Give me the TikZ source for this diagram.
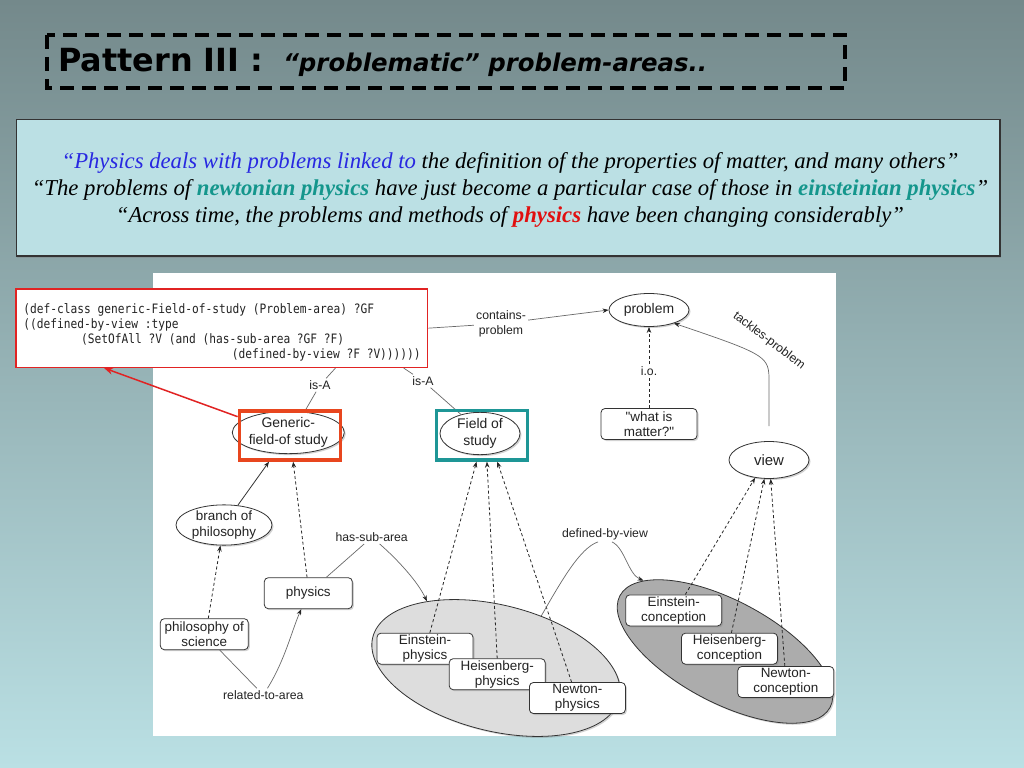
\documentclass[tikz,border=0pt]{standalone}
\usepackage{fontspec}
\setmainfont{Liberation Sans}
\newfontfamily\serifq{Liberation Serif}
\newfontfamily\monof{DejaVu Sans Mono}
\newfontfamily\titlef{DejaVu Sans}
\newfontfamily\plainsans[Ligatures=TeXOff]{Liberation Sans}
\usetikzlibrary{shapes.geometric,shadows,arrows.meta,calc}

\definecolor{bgtop}{RGB}{116,137,139}
\definecolor{bgbot}{RGB}{186,224,228}
\definecolor{quotebg}{RGB}{187,224,228}
\definecolor{qblue}{RGB}{40,40,225}
\definecolor{qteal}{RGB}{20,150,140}
\definecolor{qred}{RGB}{225,15,15}
\definecolor{codered}{RGB}{225,35,35}
\definecolor{orangebox}{RGB}{232,70,30}
\definecolor{tealbox}{RGB}{30,150,150}
\definecolor{lgray}{RGB}{221,221,221}
\definecolor{dgray}{RGB}{172,172,172}
\definecolor{lncol}{RGB}{105,105,105}
\definecolor{txtcol}{RGB}{35,35,35}

\begin{document}
\begin{tikzpicture}[x=1bp,y=-1bp,
  shad/.style={drop shadow={opacity=0.35, shadow xshift=1.5bp, shadow yshift=-1.5bp}},
  ellnode/.style={ellipse, draw=black!80, fill=white, line width=0.8bp, inner sep=0pt, align=center, text=txtcol, font=\fontsize{14}{17}\selectfont, shad},
  boxnode/.style={rectangle, rounded corners=4bp, draw=black!80, fill=white, line width=0.8bp, inner sep=0pt, minimum width=96bp, minimum height=31bp, align=center, text=txtcol, font=\fontsize{13.5}{15}\selectfont, shad},
  bigell/.style={ellipse, draw=black!80, line width=0.8bp, inner sep=0pt, shad},
  lbl/.style={inner sep=2bp, align=center, text=txtcol, font=\fontsize{12.3}{15}\selectfont},
  conn/.style={draw=lncol, line width=0.7bp},
  sconn/.style={draw=black!80, line width=0.8bp},
  dconn/.style={draw=black!85, line width=0.8bp, dash pattern=on 3bp off 2.5bp},
  tip/.style={-{Stealth[length=6bp,width=4.5bp,color=black!85]}},
  frame/.style={draw, inner sep=0pt, fill=none},
  codeline/.style={anchor=base west, inner sep=0pt, xscale=0.865, text=txtcol, font=\monof\fontsize{13}{15}\selectfont},
]
\useasboundingbox (0,0) rectangle (1024,768);
\shade[top color=bgtop, bottom color=bgbot] (0,0) rectangle (1024,768);

% title
\draw[line width=4bp, dash pattern=on 14bp off 8bp] (47,35) rectangle (845,88);
\node[anchor=base west, inner sep=0pt] (title) at (58,71.7)
  {{\titlef\bfseries\fontsize{32}{36}\selectfont Pattern III :}\hspace{20bp}{\titlef\bfseries\itshape\fontsize{24.5}{28}\selectfont “problematic” problem-areas..}};

% quote box
\node[rectangle, draw=black!80, line width=1.2bp, fill=quotebg, minimum width=983.7bp, minimum height=136.7bp, inner sep=0pt,
      drop shadow={opacity=0.4, shadow xshift=1bp, shadow yshift=-1.5bp}] (quote) at (508.2,187.7) {};
\node[align=center, inner sep=0pt, font=\serifq\itshape\fontsize{22.8}{27}\selectfont] (quotetext) at (510,190)
  {{\color{qblue}“Physics deals with problems linked to} the definition of the properties of matter, and many others”\\
   “The problems of {\color{qteal}\bfseries newtonian physics} have just become a particular case of those in {\color{qteal}\bfseries einsteinian physics}”\\
   “Across time, the problems and methods of {\color{qred}\bfseries physics} have been changing considerably”};

% white panel
\fill[white] (152.7,272.7) rectangle (836,735.5);

% big ellipses
\node[bigell, fill=lgray, minimum width=254bp, minimum height=126bp, rotate=-14] (lg) at (496,668) {};
\node[bigell, fill=dgray, minimum width=238bp, minimum height=102bp, rotate=-28] (dg) at (725,651.5) {};

% nodes
\node[ellnode, minimum width=80bp, minimum height=33bp] (problem) at (649,310) {problem};
\node[ellnode, minimum width=80bp, minimum height=37bp, font=\fontsize{15}{17}\selectfont] (view) at (769,460) {view};
\node[ellnode, minimum width=112bp, minimum height=42bp] (genell) at (288.3,432.5) {Generic-\\field-of study};
\node[ellnode, minimum width=80bp, minimum height=41bp] (fieldell) at (480,433.5) {Field of\\study};
\node[ellnode, minimum width=96bp, minimum height=40bp, font=\fontsize{13.5}{16}\selectfont] (branch) at (224,525) {branch of\\philosophy};

\node[boxnode, font=\plainsans\fontsize{13.5}{15}\selectfont] (whatis) at (649,424) {"what is\\matter?"};
\node[boxnode, minimum width=88bp] (physics) at (308.3,593.2) {physics};
\node[boxnode, minimum width=88bp] (philsci) at (204.3,634.2) {philosophy of\\science};

\node[boxnode] (ep) at (425,648.7) {Einstein-\\physics};
\node[boxnode] (hp) at (497.2,674.2) {Heisenberg-\\physics};
\node[boxnode] (np) at (577.4,698) {Newton-\\physics};
\node[boxnode] (ec) at (673.7,610.4) {Einstein-\\conception};
\node[boxnode] (hc) at (729.5,648.7) {Heisenberg-\\conception};
\node[boxnode] (nc) at (785.8,682) {Newton-\\conception};

% labels
\node[lbl] (isA1) at (320,385) {is-A};
\node[lbl] (isA2) at (423,381) {is-A};
\node[lbl] (cp) at (501,323.5) {contains-\\problem};
\node[lbl] (hsa) at (371.7,537.3) {has-sub-area};
\node[lbl] (dbv) at (605,534) {defined-by-view};
\node[lbl] (rta) at (263.3,695) {related-to-area};
\node[lbl, inner sep=0pt, rotate=-37] (tp) at (769,341) {tackles-problem};

% code box
\node[rectangle, draw=codered, line width=1.5bp, fill=white, minimum width=411.7bp, minimum height=78.3bp, inner sep=0pt] (code) at (221.85,328.15) {};
\node[codeline] (c1) at (23.3,313.5) {(def-class generic-Field-of-study (Problem-area) ?GF};
\node[codeline] (c2) at (23.3,328.5) {((defined-by-view :type};
\node[codeline] (c3) at (81,343.5) {(SetOfAll ?V (and (has-sub-area ?GF ?F)};
\node[codeline] (c4) at (231.7,358.5) {(defined-by-view ?F ?V))))))};

% connectors
\draw[conn] ($(code.south west)!0.775!(code.south east)$) -- (isA1);
\draw[conn] (isA1) -- (genell.52);
\draw[conn] ($(code.south west)!0.94!(code.south east)$) -- (isA2);
\draw[conn] (isA2) -- (fieldell.135);
\draw[conn] ($(code.north east)!0.5!(code.south east)$) -- (cp);
\draw[conn,tip] (cp) -- (problem.west);
\draw[dconn,tip] (whatis) -- node[lbl, fill=white, pos=0.45] (io) {i.o.} (problem);
\draw[conn,tip] ([yshift=15bp]view.north) -- ++(0,-50) .. controls ++(-1,-20) and (762,353) .. (problem.-28);

\draw[dconn,tip] ($(ec.north west)!0.62!(ec.north east)$) -- (view.-128);
\draw[dconn,tip] ($(hc.north west)!0.52!(hc.north east)$) -- (view.-104);
\draw[dconn,tip] ($(nc.north west)!0.49!(nc.north east)$) -- (view.-85);

% annotation rectangles
\node[frame, draw=orangebox, line width=3.3bp, minimum width=101.5bp, minimum height=49bp] (genrect) at (290,435.5) {};
\node[frame, draw=tealbox, line width=3.3bp, minimum width=91bp, minimum height=49.4bp] (fieldrect) at (482.2,435.3) {};

\draw[dconn,tip] ($(ep.north west)!0.55!(ep.north east)$) -- ($(fieldrect.south west)!0.44!(fieldrect.south east)$);
\draw[dconn,tip] ($(hp.north west)!0.50!(hp.north east)$) -- ($(fieldrect.south west)!0.55!(fieldrect.south east)$);
\draw[dconn,tip] ($(np.north west)!0.44!(np.north east)$) -- ($(fieldrect.south west)!0.66!(fieldrect.south east)$);

\draw[sconn,tip] (branch.55) -- ($(genrect.south west)!0.30!(genrect.south east)$);
\draw[dconn,tip] ($(physics.north west)!0.486!(physics.north east)$) -- ($(genrect.south west)!0.53!(genrect.south east)$);
\draw[dconn,tip] ($(philsci.north west)!0.545!(philsci.north east)$) -- (branch.-100);

\draw[conn] (philsci) -- (rta);
\draw[conn,tip] (rta) .. controls (285,660) and (292,630) .. (physics);
\draw[conn] (physics) -- (hsa);
\draw[conn,tip] ([xshift=8bp]hsa.south) .. controls (398,560) and (418,582) .. (lg.150);
\draw[conn] (lg.63) .. controls (562,580) and (580,548) .. ([xshift=-7bp]dbv.south);
\draw[conn,tip] ([xshift=7bp]dbv.south) .. controls (625,548) and (628,574) .. (dg.167);

% red pointer
\draw[draw=codered, line width=1.5bp, -{Stealth[length=9bp,width=7bp]}] ($(genrect.north west)!0.14!(genrect.south west)$) -- ($(code.south west)!0.215!(code.south east)$);
\end{tikzpicture}
\end{document}
